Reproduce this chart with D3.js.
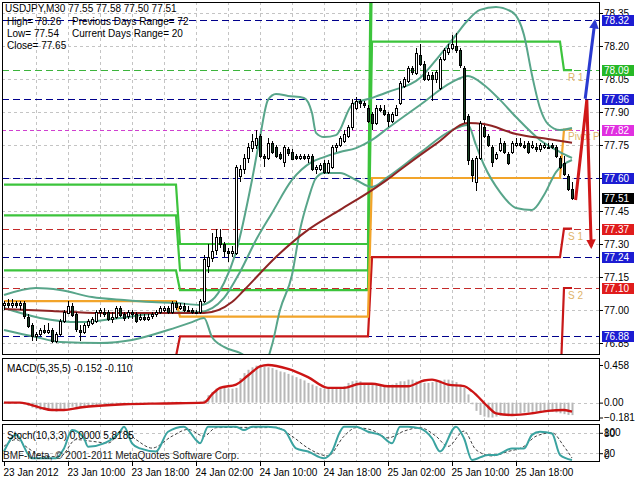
<!DOCTYPE html>
<html><head><meta charset="utf-8">
<script src="https://cdn.jsdelivr.net/npm/d3@7"></script>
<style>
html,body{margin:0;padding:0;background:#fff;}
svg{display:block;}
text{font-family:"Liberation Sans",Arial,sans-serif;font-size:10px;}
</style></head>
<body><svg id="chart" width="640" height="480"></svg>
<script>
// ---------------- DATA ----------------
const openP = [77.02,77.03,77.02,77.03,77.02,77.03,76.97,76.93,76.88,76.89,
76.91,76.90,76.91,76.86,76.89,76.95,76.99,77.02,76.98,76.91,
76.90,76.93,76.94,76.95,76.99,76.99,76.99,76.96,76.97,77.01,
76.98,76.97,76.99,76.98,76.96,76.97,76.96,76.97,76.98,76.99,
77.00,77.01,76.99,77.03,77.01,77.02,77.00,77.00,76.99,76.99,
77.04,77.20,77.24,77.27,77.33,77.30,77.27,77.26,77.26,77.61,
77.64,77.69,77.74,77.75,77.79,77.70,77.69,77.76,77.74,77.71,
77.67,77.73,77.72,77.70,77.69,77.70,77.69,77.70,77.64,77.64,
77.67,77.63,77.65,77.74,77.75,77.77,77.79,77.83,77.92,77.95,
77.94,77.92,77.89,77.85,77.92,77.91,77.89,77.86,77.89,77.94,
78.02,78.04,78.10,78.08,78.16,78.12,78.05,78.07,78.05,78.01,
78.14,78.17,78.19,78.20,78.18,78.10,77.88,77.68,77.58,77.69,
77.83,77.79,77.74,77.69,77.73,77.76,77.71,77.72,77.75,77.76,
77.75,77.76,77.74,77.74,77.73,77.74,77.74,77.75,77.74,77.69,
77.67,77.61,77.55];
const highP = [77.04,77.05,77.05,77.04,77.04,77.04,76.98,76.94,76.90,76.92,
76.93,76.94,76.92,76.90,76.96,77.00,77.04,77.03,76.99,76.93,
76.94,76.96,76.97,77.00,77.01,77.01,77.00,76.99,77.02,77.02,
76.99,77.00,77.00,76.99,76.98,76.98,76.98,76.99,77.00,77.02,
77.02,77.02,77.04,77.04,77.03,77.03,77.02,77.01,77.00,77.05,
77.25,77.30,77.35,77.37,77.37,77.31,77.28,77.29,77.66,77.66,
77.71,77.76,77.80,77.82,77.80,77.71,77.78,77.77,77.75,77.72,
77.75,77.74,77.73,77.71,77.71,77.71,77.71,77.71,77.66,77.67,
77.68,77.68,77.75,77.76,77.79,77.82,77.84,77.96,77.97,77.96,
77.95,77.93,77.90,77.93,77.93,77.93,77.90,77.90,77.93,78.04,
78.06,78.11,78.11,78.19,78.21,78.13,78.08,78.08,78.09,78.15,
78.19,78.21,78.25,78.26,78.19,78.11,77.89,77.69,77.70,77.86,
77.84,77.80,77.75,77.72,77.78,77.77,77.72,77.77,77.78,77.78,
77.77,77.77,77.77,77.76,77.76,77.76,77.76,77.76,77.75,77.70,
77.70,77.62,77.58];
const lowP = [77.00,77.01,77.01,77.01,77.00,76.96,76.92,76.86,76.86,76.88,
76.89,76.89,76.85,76.85,76.88,76.94,76.98,76.97,76.90,76.86,
76.89,76.92,76.93,76.94,76.97,76.97,76.95,76.94,76.96,76.97,
76.95,76.96,76.96,76.94,76.95,76.95,76.95,76.96,76.97,76.98,
76.99,76.98,76.98,77.00,77.00,76.99,76.99,76.98,76.98,76.98,
77.03,77.17,77.22,77.25,77.28,77.24,77.22,77.24,77.25,77.58,
77.62,77.67,77.72,77.73,77.69,77.65,77.68,77.71,77.69,77.68,
77.65,77.70,77.68,77.68,77.68,77.68,77.67,77.63,77.62,77.63,
77.62,77.62,77.64,77.72,77.74,77.76,77.78,77.82,77.91,77.92,
77.92,77.85,77.82,77.84,77.90,77.88,77.83,77.85,77.88,77.93,
78.01,78.03,78.07,78.07,78.11,78.04,78.04,77.95,78.03,78.00,
78.13,78.16,78.18,78.17,78.10,77.85,77.66,77.58,77.54,77.68,
77.78,77.74,77.65,77.68,77.72,77.71,77.66,77.71,77.74,77.74,
77.73,77.71,77.73,77.72,77.72,77.73,77.73,77.73,77.69,77.64,
77.61,77.54,77.50];
const closeP = [77.03,77.02,77.03,77.02,77.03,76.97,76.93,76.88,76.89,76.91,
76.90,76.91,76.86,76.89,76.95,76.99,77.02,76.98,76.91,76.90,
76.93,76.95,76.96,76.99,77.00,76.98,76.96,76.97,77.01,76.98,
76.96,76.99,76.98,76.95,76.97,76.96,76.97,76.98,76.99,77.01,
77.01,76.99,77.03,77.01,77.02,77.00,77.00,76.99,76.99,77.04,
77.23,77.24,77.27,77.33,77.30,77.27,77.26,77.27,77.65,77.64,
77.69,77.74,77.77,77.78,77.70,77.69,77.76,77.72,77.70,77.69,
77.74,77.71,77.69,77.69,77.70,77.69,77.70,77.64,77.65,77.66,
77.63,77.67,77.74,77.75,77.78,77.80,77.83,77.94,77.95,77.94,
77.93,77.86,77.85,77.92,77.91,77.89,77.86,77.89,77.92,78.03,
78.05,78.10,78.08,78.17,78.12,78.05,78.07,78.05,78.08,78.14,
78.18,78.19,78.21,78.18,78.11,77.87,77.68,77.61,77.69,77.85,
77.79,77.75,77.67,77.71,77.76,77.72,77.67,77.76,77.76,77.75,
77.74,77.72,77.75,77.73,77.75,77.75,77.74,77.74,77.70,77.65,
77.62,77.55,77.51];

// moving average (maroon), sampled by bar index
const maIdx = [0,12,24,36,50,57,60,68,76,84,92,96,100,108,116,120,128,136,142];
const maVal = [77.005,76.995,76.986,76.986,76.986,77.036,77.09,77.241,77.364,77.455,77.545,77.595,77.65,77.755,77.85,77.845,77.80,77.777,77.76];

// Bollinger bands (teal), sampled by bar index
const bbUpIdx = [0,8,14,22,30,37,43,49,52,55,58,62,64,66,68,71,75,77,78,80,83,87,92,96,104,109,113,116,119,123,127,130,132,134,136,139,142];
const bbUpVal = [77.068,77.10,77.091,77.059,77.045,77.036,77.032,77.023,77.045,77.123,77.264,77.591,77.786,77.955,77.982,77.973,77.964,77.895,77.805,77.786,77.795,77.932,77.964,77.991,78.055,78.159,78.25,78.318,78.364,78.377,78.355,78.25,78.068,77.918,77.845,77.818,77.827];
const bbMidIdx = [0,9,19,29,39,49,55,59,63,67,72,77,80,84,88,92,96,104,112,116,120,124,128,134,139,142];
const bbMidVal = [77.009,76.964,76.945,76.964,76.986,76.991,77.055,77.173,77.318,77.441,77.591,77.673,77.695,77.718,77.736,77.773,77.827,77.932,78.036,78.064,78.023,77.955,77.877,77.773,77.718,77.691];
const bbLoIdx = [0,8,14,24,32,41,47,50,52,55,59,62,65,67,69,72,74,76,78,80,84,88,92,96,104,112,116,118,120,124,128,132,135,138,142];
const bbLoVal = [76.909,76.877,76.855,76.85,76.864,76.909,76.945,76.964,76.877,76.832,76.805,76.773,76.75,76.841,77.0,77.159,77.364,77.50,77.60,77.623,77.623,77.591,77.559,77.605,77.714,77.818,77.841,77.75,77.659,77.536,77.464,77.455,77.523,77.627,77.682];

// daily pivot levels (per day, bar index ranges)
const dayStart = [0,44,92,140];
const dayEnd   = [43,91,139,142];
const pivotPP = [77.04,76.97,77.60,77.82];
const pivotR1 = [77.18,77.09,78.22,78.09];
const pivotR2 = [77.43,77.18,78.58,78.54];
const pivotR3 = [77.57,77.30,79.20,78.82];
const pivotS1 = [76.79,76.88,77.24,77.37];
const pivotS2 = [76.65,76.76,76.62,77.10];
const pivotS3 = [76.40,76.67,76.26,76.65];
const pivotNames = ['R 1','Pivot Point','S 1','S 2'];
const pivotNameVals = [78.09,77.82,77.37,77.10];

// horizontal price levels with labels
const levelPrices = [78.32,78.09,77.96,77.82,77.60,77.37,77.24,77.10,76.88];
const levelKinds  = ['mid','r','mid','p','mid','s','mid','s','mid'];
const bidPrice = 77.51;

// axis ticks
const yTicks = [78.35,78.20,78.05,77.90,77.75,77.60,77.45,77.30,77.15,77.00,76.85];
const xLabelBars = [0,16,32,48,64,80,96,112,128];
const xLabels = ['23 Jan 2012','23 Jan 10:00','23 Jan 18:00','24 Jan 02:00','24 Jan 10:00','24 Jan 18:00','25 Jan 02:00','25 Jan 10:00','25 Jan 18:00'];

// MACD histogram (per bar) and signal (sampled)
const macdHist = [0.01,0.01,0.01,0.00,0.00,-0.02,-0.04,-0.06,-0.08,-0.09,
-0.09,-0.10,-0.10,-0.11,-0.10,-0.08,-0.06,-0.05,-0.06,-0.07,
-0.06,-0.05,-0.04,-0.03,-0.02,-0.02,-0.02,-0.02,-0.01,-0.02,
-0.02,-0.02,-0.01,-0.02,-0.02,-0.01,-0.01,-0.01,0.00,0.00,
0.01,0.01,0.01,0.01,0.01,0.00,0.00,0.00,0.00,0.01,
0.03,0.09,0.13,0.17,0.19,0.18,0.17,0.17,0.18,0.30,
0.36,0.40,0.43,0.45,0.458,0.44,0.43,0.42,0.40,0.38,
0.37,0.35,0.33,0.31,0.29,0.27,0.24,0.22,0.20,0.18,
0.17,0.17,0.17,0.18,0.19,0.20,0.24,0.26,0.27,0.26,
0.24,0.23,0.23,0.22,0.21,0.20,0.20,0.22,0.24,0.26,
0.26,0.28,0.28,0.26,0.25,0.24,0.24,0.25,0.26,0.27,
0.28,0.28,0.27,0.25,0.22,0.18,0.10,-0.02,-0.10,-0.15,
-0.17,-0.18,-0.181,-0.17,-0.16,-0.15,-0.15,-0.14,-0.14,-0.13,
-0.12,-0.12,-0.11,-0.11,-0.10,-0.10,-0.10,-0.11,-0.12,-0.13,
-0.14,-0.15,-0.152];
const macdSigIdx = [0,4,9,12,15,19,30,40,50,52,54,58,61,64,66,71,76,81,85,89,92,96,101,105,107,111,115,117,121,123,127,132,136,140,142];
const macdSigVal = [0.00,0.00,-0.06,-0.09,-0.09,-0.06,-0.02,-0.01,0.00,0.10,0.18,0.22,0.33,0.44,0.458,0.41,0.31,0.18,0.18,0.23,0.23,0.20,0.20,0.27,0.28,0.22,0.20,0.14,-0.05,-0.13,-0.15,-0.13,-0.10,-0.09,-0.11];

// Stochastic main and signal (sampled)
const stMainIdx = [0,3,7,13,15,17,20,21,25,29,30,32,34,38,41,45,48,49,51,53,58,60,62,66,70,73,76,80,82,84,85,88,91,94,97,99,101,104,107,109,113,115,117,121,123,127,130,132,134,137,139,142];
const stMainVal = [25,74,5,5,34,88,64,39,49,83,98,49,34,25,83,98,59,49,98,98,98,88,98,98,88,34,25,5,25,83,98,98,83,74,49,98,98,93,64,25,98,64,0,15,15,34,34,74,83,78,15,0];
const stSigIdx = [0,3,6,10,14,18,22,26,30,33,37,42,46,50,53,60,64,68,72,76,81,85,88,92,96,100,104,108,111,115,118,122,126,130,133,137,140,142];
const stSigVal = [40,60,35,10,10,60,55,50,85,60,35,70,90,70,95,96,95,96,70,35,12,70,95,88,65,85,95,70,40,85,30,12,25,40,70,80,40,6];

// ---------------- DRAWING ----------------
const svg = d3.select('#chart');
const PL = 2, PR = 600;
const mainT = 2, mainB = 355, macdT = 358, macdB = 421, stT = 424, stB = 462;
const nBars = closeP.length;

const x  = d3.scaleLinear().domain([0, 1]).range([4, 8]);
const y  = d3.scaleLinear().domain([77.00, 78.35]).range([310, 13]);
const yM = d3.scaleLinear().domain([-0.181, 0.458]).range([417.5, 365]);
const yS = d3.scaleLinear().domain([0, 100]).range([460, 426]);

svg.append('rect').attr('width', 640).attr('height', 480).attr('fill', '#fff');

const defs = svg.append('defs');
[['cMain', mainT, mainB], ['cMacd', macdT, macdB], ['cSt', stT, stB]].forEach(([id, t, b]) => {
  defs.append('clipPath').attr('id', id).append('rect')
    .attr('x', PL).attr('y', t).attr('width', PR - PL).attr('height', b - t);
});
function marker(id, color) {
  defs.append('marker').attr('id', id).attr('viewBox', '0 0 10 10')
    .attr('refX', 7).attr('refY', 5).attr('markerWidth', 3.2).attr('markerHeight', 3.2)
    .attr('orient', 'auto').append('path').attr('d', 'M0,0L10,5L0,10z').attr('fill', color);
}
marker('arRed', '#d01818');
marker('arBlue', '#2a3ad0');

const gridC = '#c4c4c4';
const vBars = d3.range(8, nBars, 8);
function vGrid(t, b) {
  svg.append('g').selectAll('line').data(vBars).join('line')
    .attr('x1', d => Math.round(x(d)) + 0.5).attr('x2', d => Math.round(x(d)) + 0.5)
    .attr('y1', t).attr('y2', b)
    .attr('stroke', gridC).attr('stroke-dasharray', '3,3').attr('shape-rendering', 'crispEdges');
}
function hGrid(vals, sc) {
  svg.append('g').selectAll('line').data(vals).join('line')
    .attr('x1', PL).attr('x2', PR)
    .attr('y1', d => Math.round(sc(d)) + 0.5).attr('y2', d => Math.round(sc(d)) + 0.5)
    .attr('stroke', gridC).attr('stroke-dasharray', '3,3').attr('shape-rendering', 'crispEdges');
}
vGrid(mainT, mainB); vGrid(macdT, macdB); vGrid(stT, stB);
hGrid(yTicks, y); hGrid([0], yM); hGrid([80, 20], yS);

// ---- main panel content ----
const gMain = svg.append('g').attr('clip-path', 'url(#cMain)');

const lineStyle = {
  mid: '#00008c', r: '#3cb43c', p: '#d040d0', s: '#c42a2a'
};
const boxStyle = {
  mid: '#1c1cd2', r: '#26b826', p: '#e030e0', s: '#e01c1c'
};
gMain.append('g').selectAll('line').data(levelPrices).join('line')
  .attr('x1', PL).attr('x2', PR)
  .attr('y1', d => Math.round(y(d)) + 0.5).attr('y2', d => Math.round(y(d)) + 0.5)
  .attr('stroke', (d, i) => lineStyle[levelKinds[i]])
  .attr('stroke-dasharray', (d, i) => levelKinds[i] === 'p' ? '4,3' : '7,4')
  .attr('shape-rendering', 'crispEdges');

// pivot step lines
const pLine = d3.line().x(d => x(d[0])).y(d => y(d[1]));
function steps(vals) {
  const pts = [];
  dayStart.forEach((s, k) => { pts.push([s, vals[k]]); pts.push([dayEnd[k], vals[k]]); });
  return pts;
}
[[pivotR3, '#3cc43c'], [pivotR2, '#3cc43c'], [pivotR1, '#3cc43c'],
 [pivotS3, '#c81818'], [pivotS2, '#c81818'], [pivotS1, '#c81818'],
 [pivotPP, '#f2a42a']].forEach(([vals, col]) => {
  gMain.append('path').attr('d', pLine(steps(vals))).attr('fill', 'none')
    .attr('stroke', col).attr('stroke-width', 2.2);
});

// Bollinger + MA
const curve = d3.line().x(d => x(d[0])).y(d => y(d[1])).curve(d3.curveMonotoneX);
[[bbUpIdx, bbUpVal], [bbMidIdx, bbMidVal], [bbLoIdx, bbLoVal]].forEach(([ix, vs]) => {
  gMain.append('path').attr('d', curve(ix.map((d, i) => [d, vs[i]])))
    .attr('fill', 'none').attr('stroke', '#58a58a').attr('stroke-width', 2);
});
gMain.append('path').attr('d', curve(maIdx.map((d, i) => [d, maVal[i]])))
  .attr('fill', 'none').attr('stroke', '#8e2424').attr('stroke-width', 2);

// candles
const bars = d3.range(nBars);
gMain.append('g').selectAll('line').data(bars).join('line')
  .attr('x1', i => Math.round(x(i)) + 0.5).attr('x2', i => Math.round(x(i)) + 0.5)
  .attr('y1', i => y(highP[i])).attr('y2', i => y(lowP[i]))
  .attr('stroke', '#000').attr('shape-rendering', 'crispEdges');
gMain.append('g').selectAll('rect').data(bars).join('rect')
  .attr('x', i => Math.round(x(i)) - 0.5).attr('width', 2)
  .attr('y', i => Math.round(y(Math.max(openP[i], closeP[i]))) + 0.5)
  .attr('height', i => Math.max(1, Math.round(Math.abs(y(openP[i]) - y(closeP[i])))))
  .attr('fill', i => closeP[i] >= openP[i] ? '#fff' : '#163f22')
  .attr('stroke', '#000').attr('shape-rendering', 'crispEdges');

// pivot names
gMain.append('g').selectAll('text').data(pivotNames).join('text')
  .attr('x', x(141)).attr('y', (d, i) => y(pivotNameVals[i]) + (i === 1 ? 10 : 11))
  .attr('fill', '#e0b46a').attr('font-size', 10).text(d => d);

// forecast arrows
const arLine = d3.line().x(d => x(d[0])).y(d => y(d[1]));
const redArrowBars = [142.9, 145.7, 146.8];
const redArrowPrices = [77.50, 77.955, 77.29];
const blueArrowBars = [145.3, 147.7];
const blueArrowPrices = [77.96, 78.31];
gMain.append('path').attr('d', arLine(redArrowBars.map((b, i) => [b, redArrowPrices[i]])))
  .attr('fill', 'none').attr('stroke', '#d01818').attr('stroke-width', 3).attr('marker-end', 'url(#arRed)');
gMain.append('path').attr('d', arLine(blueArrowBars.map((b, i) => [b, blueArrowPrices[i]])))
  .attr('fill', 'none').attr('stroke', '#2a3ad0').attr('stroke-width', 3).attr('marker-end', 'url(#arBlue)');

// ---- MACD panel ----
const gMacd = svg.append('g').attr('clip-path', 'url(#cMacd)');
gMacd.append('g').selectAll('rect').data(macdHist).join('rect')
  .attr('x', (d, i) => Math.round(x(i)) - 0.5).attr('width', 2)
  .attr('y', d => Math.min(yM(0), yM(d))).attr('height', d => Math.abs(yM(d) - yM(0)))
  .attr('fill', '#b8b8b8');
gMacd.append('path').attr('d', d3.line().x(d => x(d[0])).y(d => yM(d[1])).curve(d3.curveMonotoneX)(macdSigIdx.map((d, i) => [d, macdSigVal[i]])))
  .attr('fill', 'none').attr('stroke', '#cc1414').attr('stroke-width', 2.4);

// ---- Stochastic panel ----
const gSt = svg.append('g').attr('clip-path', 'url(#cSt)');
const sLine = d3.line().x(d => x(d[0])).y(d => yS(d[1])).curve(d3.curveMonotoneX);
gSt.append('path').attr('d', sLine(stSigIdx.map((d, i) => [d, stSigVal[i]])))
  .attr('fill', 'none').attr('stroke', '#404040').attr('stroke-width', 1).attr('stroke-dasharray', '3,2');
gSt.append('path').attr('d', sLine(stMainIdx.map((d, i) => [d, stMainVal[i]])))
  .attr('fill', 'none').attr('stroke', '#3aa3a0').attr('stroke-width', 2);

// ---- frames ----
[[mainT, mainB], [macdT, macdB], [stT, stB]].forEach(([t, b]) => {
  svg.append('rect').attr('x', PL + 0.5).attr('y', t + 0.5).attr('width', PR - PL - 1).attr('height', b - t - 1)
    .attr('fill', 'none').attr('stroke', '#000').attr('shape-rendering', 'crispEdges');
});

// ---- axes ----
function styleAxis(g) {
  g.select('.domain').remove();
  g.selectAll('text').attr('font-family', '"Liberation Sans",Arial,sans-serif').attr('font-size', 10).attr('fill', '#000');
  g.selectAll('line').attr('stroke', '#000');
}
svg.append('g').attr('transform', `translate(${PR},0)`)
  .call(d3.axisRight(y).tickValues(yTicks).tickSize(3).tickPadding(1).tickFormat(d3.format('.2f')))
  .call(styleAxis);
svg.append('g').attr('transform', `translate(${PR},0)`)
  .call(d3.axisRight(yM).tickValues([0.458, 0, -0.181]).tickSize(3).tickPadding(1)
    .tickFormat(d => d === 0 ? '0.00' : d3.format('.3f')(d)))
  .call(styleAxis);
svg.append('g').attr('transform', `translate(${PR},0)`)
  .call(d3.axisRight(yS).tickValues([80, 20]).tickSize(3).tickPadding(1))
  .call(styleAxis);
// clamped 100 / 0 labels (overlap like the original)
svg.append('text').attr('x', PR + 4).attr('y', yS(80) + 3).text('100');
svg.append('text').attr('x', PR + 4).attr('y', yS(20) + 6).text('0');

const xAx = svg.append('g').attr('transform', `translate(0,${stB})`)
  .call(d3.axisBottom(x).tickValues(xLabelBars).tickSize(4).tickPadding(3).tickFormat((d, i) => xLabels[i]))
  .call(styleAxis);
xAx.selectAll('text').attr('text-anchor', 'start').attr('dx', -1);

// price label boxes
const boxes = levelPrices.map((p, i) => ({ p, c: boxStyle[levelKinds[i]] })).concat([{ p: bidPrice, c: '#000' }]);
const gB = svg.append('g');
gB.selectAll('rect').data(boxes).join('rect')
  .attr('x', PR + 2).attr('y', d => Math.round(y(d.p)) - 5).attr('width', 32).attr('height', 11)
  .attr('fill', d => d.c);
gB.selectAll('text').data(boxes).join('text')
  .attr('x', PR + 4).attr('y', d => Math.round(y(d.p)) + 4).attr('fill', '#fff')
  .text(d => d.p.toFixed(2));

// ---- texts ----
const info = svg.append('g').attr('fill', '#000');
info.append('text').attr('x', 5).attr('y', 12).text('USDJPY,M30  77.55 77.58 77.50 77.51');
info.append('text').attr('x', 7).attr('y', 25).text('High= 78.26');
info.append('text').attr('x', 72).attr('y', 25).text('Previous Days Range= 72');
info.append('text').attr('x', 7).attr('y', 37).text('Low= 77.54');
info.append('text').attr('x', 72).attr('y', 37).text('Current Days Range= 20');
info.append('text').attr('x', 7).attr('y', 49).text('Close= 77.65');
info.append('text').attr('x', 7).attr('y', 372).text('MACD(5,35,5) -0.152 -0.110');
info.append('text').attr('x', 7).attr('y', 439).text('Stoch(10,3,3) 0.0000 5.8185');
info.append('text').attr('x', 3).attr('y', 459).attr('fill', '#202020').text('BMF-Meta, \u00a9 2001-2011 MetaQuotes Software Corp.');
</script></body></html>
